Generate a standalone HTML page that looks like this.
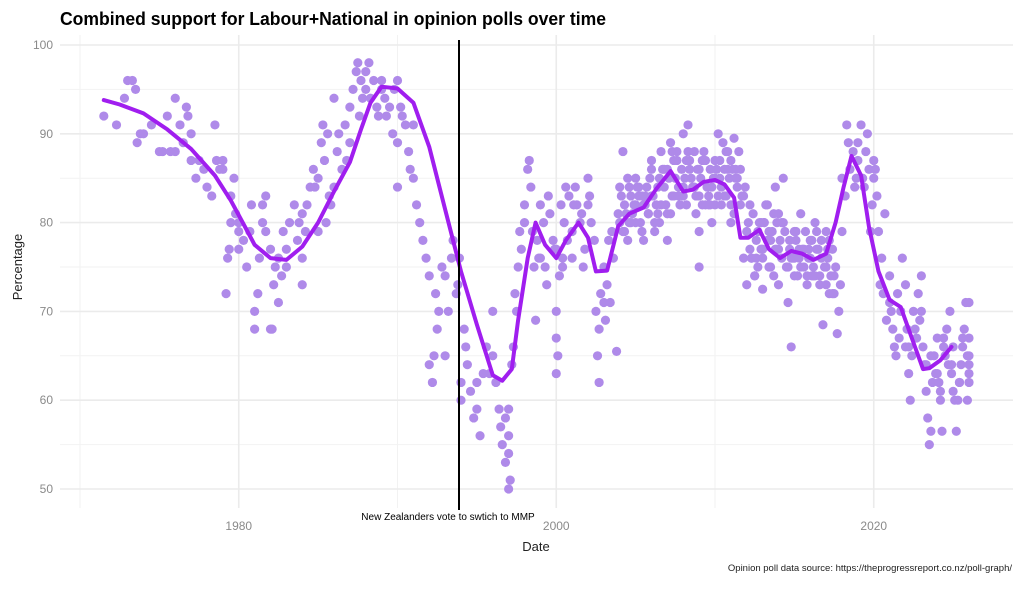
<!DOCTYPE html>
<html><head><meta charset="utf-8">
<style>
body{margin:0;background:#fff;width:1024px;height:585px;overflow:hidden;font-family:"Liberation Sans",sans-serif;}
svg text{font-family:"Liberation Sans",sans-serif;}
</style></head>
<body>
<svg id="chart" width="1024" height="585" viewBox="0 0 1024 585" xmlns="http://www.w3.org/2000/svg">
<text x="60" y="25" font-size="18" font-weight="bold" fill="#000" textLength="546" lengthAdjust="spacingAndGlyphs">Combined support for Labour+National in opinion polls over time</text>
<g id="grid"></g>
<g id="points"></g>
<g id="trend"></g>
<g id="axes"></g>
<line x1="459" y1="40" x2="459" y2="510" stroke="#000" stroke-width="2"/>
<text x="448" y="520" font-size="10" text-anchor="middle" fill="#000">New Zealanders vote to swtich to MMP</text>
<text x="536" y="551" font-size="13" text-anchor="middle" fill="#222">Date</text>
<text x="22" y="267" font-size="13" text-anchor="middle" fill="#222" transform="rotate(-90 22 267)">Percentage</text>
<text x="1012" y="571" font-size="9.5" text-anchor="end" fill="#222">Opinion poll data source: https://theprogressreport.co.nz/poll-graph/</text>
</svg>
<script>
const yTicks=[50,60,70,80,90,100];
const yMinor=[55,65,75,85,95];
const xTicks=[1980,2000,2020];
const xMinor=[1970,1990,2010];
const trendYears=[1971.5,1972.5,1974,1975.5,1977,1978.5,1979.5,1980.4,1981,1982,1983,1984,1985,1986,1987,1987.7,1988.3,1989,1990,1991,1992,1993,1994,1995,1996,1996.6,1997.2,1997.6,1998.2,1998.7,1999.3,2000,2000.6,2001.4,2002,2002.5,2003.2,2003.9,2004.6,2005.5,2006.3,2007.2,2008,2008.6,2009.3,2010,2010.6,2011.2,2011.6,2012.1,2012.8,2013.4,2014.1,2014.8,2015.5,2016.2,2017,2017.6,2018.1,2018.6,2019.2,2019.7,2020.3,2021,2021.7,2022.5,2023.1,2023.5,2024.2,2024.9,2025.5,2026.1];
const trendValues=[93.8,93.3,92.3,90.5,88.3,85.3,82.5,79.5,77.5,76,75.8,77.3,80,83.5,86.8,90.5,93.5,95.3,95.1,93.5,88.5,81.5,74.5,68.5,62.8,62.2,63.5,69,76,80,77.5,76,78,80,78.3,74.5,74.6,79.6,81,81.7,83.8,85.8,83.5,83.7,84.6,84.8,84.3,82.8,78.3,78.3,79.2,77,76,76.8,76.5,75.8,76.5,80,84,87.5,85.3,79.5,74.5,71.3,70.5,66.5,63.5,63.6,64.5,66];
const pointYears=[1971.5,1972.3,1972.8,1973,1973.3,1973.5,1973.6,1973.8,1974,1974.5,1975,1975.2,1975.5,1975.7,1976,1976,1976.3,1976.5,1976.7,1976.8,1977,1977,1977.3,1977.5,1977.8,1978,1978.3,1978.5,1978.6,1978.8,1979,1979,1979.2,1979.3,1979.4,1979.5,1979.5,1979.7,1979.8,1980,1980,1980,1980.3,1980.5,1980.7,1980.8,1981,1981,1981.2,1981.3,1981.5,1981.5,1981.7,1981.7,1982,1982,1982.1,1982.2,1982.3,1982.5,1982.5,1982.7,1982.8,1983,1983,1983.2,1983.5,1983.7,1983.8,1984,1984,1984,1984.2,1984.3,1984.5,1984.7,1984.8,1985,1985,1985.2,1985.3,1985.4,1985.5,1985.6,1985.7,1985.8,1986,1986,1986.2,1986.3,1986.5,1986.7,1986.8,1987,1987,1987.2,1987.4,1987.5,1987.6,1987.7,1987.8,1988,1988,1988.2,1988.3,1988.5,1988.7,1988.8,1989,1989,1989.2,1989.3,1989.5,1989.7,1989.8,1990,1990,1990,1990.2,1990.3,1990.5,1990.7,1990.8,1991,1991,1991.2,1991.4,1991.6,1991.8,1992,1992,1992.2,1992.3,1992.4,1992.5,1992.6,1992.8,1993,1993,1993.2,1993.4,1993.5,1993.7,1993.8,1993.9,1994,1994,1994.2,1994.3,1994.4,1994.6,1994.8,1995,1995,1995.2,1995.4,1995.6,1995.8,1996,1996,1996.2,1996.4,1996.5,1996.6,1996.8,1996.8,1997,1997.1,1997,1997,1997,1997.2,1997.3,1997.4,1997.5,1997.6,1997.7,1997.8,1998,1998,1998.2,1998.3,1998.4,1998.5,1998.6,1998.7,1998.8,1999,1999,1999.2,1999.3,1999.5,1999.6,1999.8,2000,2000,2000,2000,2000.1,2000.2,2000.3,2000.4,2000.5,2000.6,2000.7,2000.8,2001,2001,2001.2,2001.3,2001.5,2001.7,2001.8,2002,2002,2002.2,2002.4,2002.5,2002.6,2002.7,2002.7,2002.8,2003,2003,2003.2,2003.3,2003.5,2003.6,2003.8,2004,2004,2004.2,2004.3,2004.5,2004.7,2004.8,2005,2005,2005.2,2005.3,2005.5,2005.7,2005.8,2006,2006,2006.2,2006.3,2006.5,2006.6,2006.8,2007,2007,2007.2,2007.3,2007.5,2007.6,2007.8,2008,2008,2008.2,2008.3,2008.5,2008.7,2008.8,2009,2009,2009,2009.2,2009.3,2009.5,2009.7,2009.8,2010,2010,2010.2,2010.3,2010.5,2010.6,2010.8,2011,2011,2011.2,2011.4,2011.5,2011.6,2011.8,2012,2012,2012.2,2012.3,2012.5,2012.6,2012.8,2013,2013,2013.2,2013.4,2013.5,2013.7,2013.8,2014,2014,2014.2,2014.3,2014.5,2014.6,2014.8,2015,2015,2015.2,2015.4,2015.6,2015.8,2016,2016,2016.2,2016.3,2016.5,2016.6,2016.8,2017,2017,2017.2,2017.4,2017.5,2017.7,2017.8,2018,2018,2018.2,2018.3,2018.5,2018.7,2018.8,2019,2019,2019.2,2019.3,2019.5,2019.7,2019.8,2020,2020,2020.2,2020.3,2020.5,2020.6,2020.8,2021,2021,2021.2,2021.4,2021.5,2021.7,2021.8,2022,2022,2022.2,2022.3,2022.4,2022.5,2022.6,2022.8,2023,2023,2023.2,2023.3,2023.4,2023.5,2023.6,2023.7,2023.8,2024,2024,2024.2,2024.3,2024.5,2024.6,2024.8,2025,2025,2025.2,2025.3,2025.5,2025.6,2025.8,2026,2026,2026,2026,2026,
2004.1,2004.4,2004.6,2004.9,2005.1,2005.4,2005.6,2005.9,2006.1,2006.4,2006.7,2006.9,2007.1,2007.4,2007.7,2007.9,2008.1,2008.4,2008.6,2008.9,2009.1,2009.4,2009.6,2009.9,2010.1,2010.4,2010.7,2010.9,2011.1,2011.3,2011.7,2011.9,2012.1,2012.4,2012.7,2012.9,2013.1,2013.3,2013.6,2013.9,2014.1,2014.4,2014.7,2014.9,2015.1,2015.3,2015.7,2015.9,2016.1,2016.4,2016.7,2016.9,2017.1,2017.3,2017.6,2017.9,
2004.2,2004.6,2005.0,2005.4,2005.8,2006.2,2006.6,2007.0,2007.4,2007.8,2008.2,2008.6,2009.0,2009.4,2009.8,2010.2,2010.6,2011.0,2011.4,2011.8,2012.2,2012.6,2013.0,2013.4,2013.8,2014.2,2014.6,2015.0,2015.4,2015.8,2016.2,2016.6,2017.0,2017.4,2019.4,2019.9,2020.4,2021.3,2022.1,2023.1,2024.1,2024.4,2024.9,2025.4,2025.7,2025.9,
2003.9,2004.3,2004.7,2005.2,2005.6,2006.0,2006.4,2006.8,2007.2,2007.6,2008.0,2008.4,2008.8,2009.2,2009.6,2010.0,2010.4,2010.8,2011.2,2011.6,2007.3,2007.7,2008.3,2008.7,2009.3,2009.7,2010.3,2010.7,2011.3,2006.5,2005.5,2004.5,
2012.3,2012.7,2013.1,2013.5,2013.9,2014.3,2014.7,2015.1,2015.5,2015.9,2016.3,2016.7,2017.1,2017.5,2012.5,2013.3,2014.0,2014.8,2015.6,2016.4,2017.2,2012.9,2013.7,2015.3,2016.1,
2018.4,2018.9,2019.6,2020.1,2020.7,2021.1,2021.6,2022.2,2022.7,2023.3,2023.9,2024.2,2024.7,2025.1,2025.4,2025.9,2023.6,2024.4,2024.9,2025.6,2026.0,2022.9,1998.9,1999.4,1999.9,2000.4,2001.1,2001.6,2002.1,2003.1,2003.4];
const pointValues=[92,91,94,96,96,95,89,90,90,91,88,88,92,88,94,88,91,89,93,92,90,87,85,87,86,84,83,91,87,86,87,86,72,76,77,83,80,85,81,79,77,80,78,75,79,82,68,70,72,76,80,82,83,79,77,68,68,73,75,76,71,74,79,77,75,80,82,78,80,81,76,73,79,82,84,86,84,79,85,89,91,87,80,90,83,82,84,94,88,90,86,91,87,89,93,95,97,98,92,96,94,95,97,98,94,96,93,92,95,96,94,92,93,90,95,89,96,84,93,92,91,88,86,85,91,82,80,78,76,74,64,62,65,72,68,70,75,74,65,70,76,78,72,73,76,60,62,68,66,64,61,58,62,59,56,63,66,63,65,70,62,59,57,55,58,53,50,51,54,56,59,64,66,72,70,75,79,77,82,80,86,87,84,79,75,69,78,76,82,80,75,83,81,78,77,63,67,70,65,74,82,75,80,84,78,83,79,76,84,82,80,75,77,85,82,80,78,70,65,62,68,72,71,75,73,78,79,76,65.5,80,84,88,82,78,83,81,82,85,83,80,78,84,81,87,83,79,82,85,88,84,78,86,89,83,85,87,82,90,84,87,91,85,88,83,75,79,86,82,88,84,86,80,82,87,90,85,89,83,86,80,87,89.5,84,88,82,76,73,79,82,76,74,78,80,72.5,77,82,79,75,81,84,73,77,80,85,75,71,66,76,79,74,81,77,73,76,78,75,80,77,74,68.5,79,75,72,77,74,67.5,70,85,79,83,91,86,88,84,89,87,91,85,88,86,79,87,85,83,79,76,72,69,74,71,68,65,72,70,76,73,66,63,60,65,70,68,72,74,70,64,61,58,55,56.5,62,65,67,63,60,56.5,65,68,70,66,61,56.5,60,64,67,71,71,63,65,67,62,
83,81,84,82,84,83,82,85,83,84,86,82,85,87,84,86,85,87,84,86,85,87,83,85,86,84,88,85,86,85,83,84,80,81,79,80,80,78,79,80,78,79,77,76,78,77,79,76,78,77,76,75,77,74,75,73,
79,80,80,79,81,80,82,81,83,82,82,84,83,82,84,83,86,82,85,83,77,76,76,75,77,76,75,74,75,74,74,73,73,72,84,82,73,66,68,66,62,67,64,62,68,65,
81,79,80,84,83,86,81,86,81,88,83,86,81,87,82,85,82,88,81,86,88,83,88,84,87,82,87,83,86,80,82,85,
76,75,80,78,77,80,78,79,77,77,74,78,76,72,74,82,81,76,75,79,78,77,74,76,74,
89,85,90,86,81,70,67,66,67,64,63,61,64,60,62,60,65,66,63,66,64,69,76,73,77,76,82,81,83,69,71];

const S='http://www.w3.org/2000/svg';
const X=y=>80+(y-1970)*15.875;
const Y=v=>489-(v-50)*8.88;
const L=60,R=1013,T=35,B=508;
function mk(tag,attrs,parent){const e=document.createElementNS(S,tag);for(const k in attrs)e.setAttribute(k,attrs[k]);parent.appendChild(e);return e;}
const grid=document.getElementById('grid');
mk('rect',{x:L,y:T,width:R-L,height:B-T,fill:'#fff'},grid);
yMinor.forEach(v=>{const l=mk('line',{x1:L,x2:R,y1:Y(v),y2:Y(v),stroke:'#f2f2f2','stroke-width':1},grid);

});
xMinor.forEach(v=>{const l=mk('line',{x1:X(v),x2:X(v),y1:T,y2:B,stroke:'#f2f2f2','stroke-width':1},grid);

});
const axes=document.getElementById('axes');
yTicks.forEach(v=>{const l=mk('line',{x1:L,x2:R,y1:Y(v),y2:Y(v),stroke:'#ebebeb','stroke-width':1.6},grid);


const t=mk('text',{x:53,y:Y(v)+4,'font-size':12,'text-anchor':'end',fill:'#8a8a8a'},axes);t.textContent=v;

});
xTicks.forEach(v=>{const l=mk('line',{x1:X(v),x2:X(v),y1:T,y2:B,stroke:'#ebebeb','stroke-width':1.6},grid);


const t=mk('text',{x:X(v),y:530,'font-size':12,'text-anchor':'middle',fill:'#8a8a8a'},axes);t.textContent=v;

});
const pg=document.getElementById('points');
pointYears.forEach((yr,i)=>{const c=mk('circle',{cx:X(yr),cy:Y(pointValues[i]),r:4.6,fill:'#af8ae9'},pg);

});
const tg=document.getElementById('trend');
const d=trendYears.map((yr,i)=>(i?'L':'M')+X(yr).toFixed(1)+','+Y(trendValues[i]).toFixed(1)).join(' ');
const p=mk('path',{d:d,fill:'none',stroke:'#a01eef','stroke-width':4,'stroke-linejoin':'round','stroke-linecap':'round'},tg);


</script>
</body></html>
